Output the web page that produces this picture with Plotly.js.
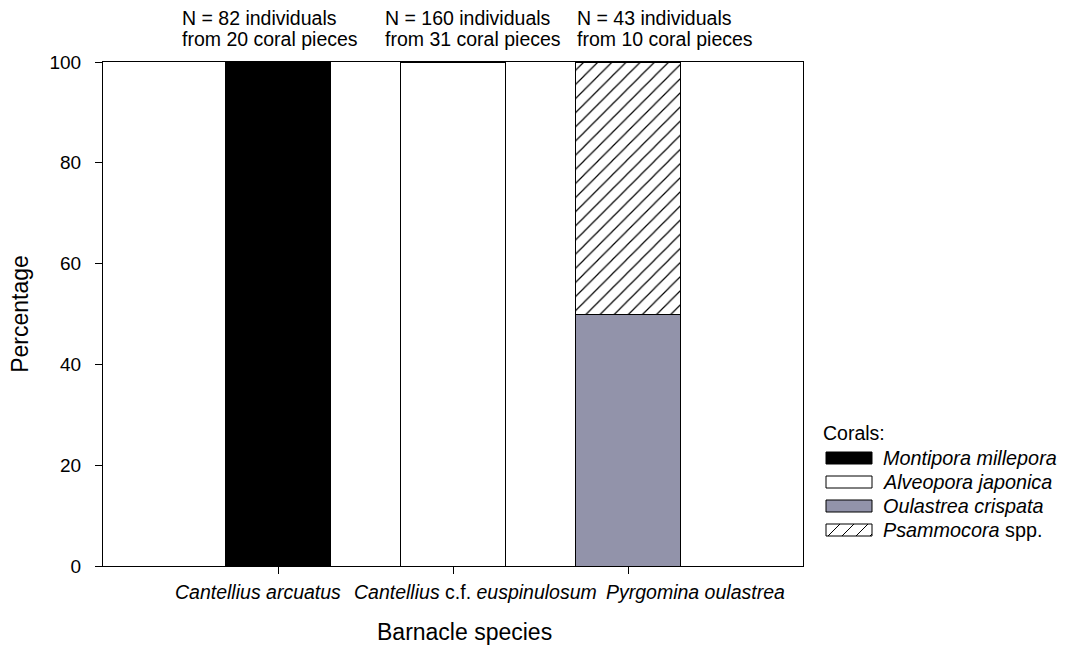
<!DOCTYPE html>
<html>
<head>
<meta charset="utf-8">
<script src="https://cdn.plot.ly/plotly-3.0.1.min.js"></script>
<style>html,body{margin:0;padding:0;background:#fff;}#chart{width:1071px;height:645px;}</style>
</head>
<body>
<div id="chart"></div>
<script>
// ---- data ----
const species = ["Cantellius arcuatus", "Cantellius c.f. euspinulosum", "Pyrgomina oulastrea"];
const speciesLabels = ["<i>Cantellius arcuatus</i>", "<i>Cantellius</i> c.f. <i>euspinulosum</i>", "<i>Pyrgomina oulastrea</i>"];
const noteLine1 = ["N = 82 individuals", "N = 160 individuals", "N = 43 individuals"];
const noteLine2 = ["from 20 coral pieces", "from 31 coral pieces", "from 10 coral pieces"];
const corals = ["Montipora millepora", "Alveopora japonica", "Oulastrea crispata", "Psammocora spp."];
const coralLabels = ["<i>Montipora millepora</i>", "<i>Alveopora japonica</i>", "<i>Oulastrea crispata</i>", "<i>Psammocora</i> spp."];
const montipora = [100, null, null];
const alveopora = [null, 100, null];
const oulastrea = [null, null, 50];
const psammocora = [null, null, 50];
const yTicks = [0, 20, 40, 60, 80, 100];

// ---- styles ----
const FONT = "Liberation Sans, Arial, Helvetica, sans-serif";
const fills = ["#000000", "#ffffff", "#9293aa", "#ffffff"];
const hatch = {shape: "/", fgcolor: "#000000", bgcolor: "#ffffff", size: 10, solidity: 0.12, fillmode: "replace"};
const series = [montipora, alveopora, oulastrea, psammocora];

const traces = series.map((vals, i) => {
  const t = {
    type: "bar", x: species, y: vals, name: corals[i],
    marker: {color: fills[i], line: {color: "#000000", width: 1}},
    showlegend: false, hoverinfo: "x+y+name"
  };
  if (i === 3) t.marker.pattern = hatch;
  return t;
});

// plot area geometry (px) for custom legend / note placement
const L = 103, R = 803, T = 62, B = 566;
const px = v => (v - L) / (R - L);
const py = v => (B - v) / (B - T);
const noteLeft = [180, 383, 575];
const labelShift = [-20, 22, 67];

const shapes = [];
const annotations = [];
noteLine1.forEach((s, i) => {
  annotations.push({x: px(noteLeft[i]), xref: "paper", xanchor: "left", y: py(17.5), yref: "paper", yanchor: "middle",
    text: s, showarrow: false, font: {family: FONT, size: 19.5, color: "#000"}});
  annotations.push({x: px(noteLeft[i]), xref: "paper", xanchor: "left", y: py(39), yref: "paper", yanchor: "middle",
    text: noteLine2[i], showarrow: false, font: {family: FONT, size: 19.5, color: "#000"}});
});
// category labels below the axis (offset as in the original figure)
speciesLabels.forEach((lab, i) => annotations.push({
  x: species[i], xref: "x", xshift: labelShift[i], y: py(592), yref: "paper", yanchor: "middle",
  text: lab, showarrow: false, font: {family: FONT, size: 19.5, color: "#000"}
}));
annotations.push({x: px(464), xref: "paper", y: py(632), yref: "paper", yanchor: "middle",
  text: "Barnacle species", showarrow: false, font: {family: FONT, size: 23, color: "#000"}});
annotations.push({x: px(821), xref: "paper", xanchor: "left", y: py(433), yref: "paper", yanchor: "middle",
  text: "Corals:", showarrow: false, font: {family: FONT, size: 19.5, color: "#000"}});

const sx0 = 826, sx1 = 872, sh = 12;
coralLabels.forEach((lab, i) => {
  const cy = 458 + i * 24;
  const y0 = cy + sh / 2, y1 = cy - sh / 2;
  shapes.push({type: "rect", xref: "paper", yref: "paper", x0: px(sx0), x1: px(sx1), y0: py(y0), y1: py(y1),
    fillcolor: fills[i], line: {color: "#000", width: 1}});
  if (i === 3) {
    let d = "";
    for (let xb = sx0 - sh; xb < sx1; xb += 14) {
      let ax = xb, ay = y0, bx = xb + sh, by = y1;
      if (ax < sx0) { ay = y0 - (sx0 - ax); ax = sx0; }
      if (bx > sx1) { by = y1 + (bx - sx1); bx = sx1; }
      if (bx - ax < 1) continue;
      d += `M${px(ax)},${py(ay)}L${px(bx)},${py(by)}`;
    }
    shapes.push({type: "path", xref: "paper", yref: "paper", path: d, line: {color: "#000", width: 1}});
  }
  annotations.push({x: px(881), xref: "paper", xanchor: "left", y: py(cy), yref: "paper", yanchor: "middle",
    text: lab, showarrow: false, font: {family: FONT, size: 19.8, color: "#000"}});
});

const layout = {
  width: 1071, height: 645,
  margin: {l: L, r: 1071 - R, t: T, b: 645 - B},
  paper_bgcolor: "#ffffff", plot_bgcolor: "#ffffff",
  barmode: "stack", bargap: 0.4,
  font: {family: FONT, size: 19, color: "#000"},
  showlegend: false,
  xaxis: {
    type: "category", categoryorder: "array", categoryarray: species,
    tickvals: species, range: [-1, 3], showticklabels: false,
    showline: true, mirror: true, linecolor: "#000", linewidth: 1,
    ticks: "outside", ticklen: 7, tickcolor: "#000", tickwidth: 1,
    showgrid: false, zeroline: false, automargin: false
  },
  yaxis: {
    range: [0, 100], tickvals: yTicks,
    showline: true, mirror: true, linecolor: "#000", linewidth: 1,
    ticks: "outside", ticklen: 7, tickcolor: "#000", tickwidth: 1, ticklabelstandoff: 10,
    showgrid: false, zeroline: false, automargin: false,
    tickfont: {family: FONT, size: 19, color: "#000"},
    title: {text: "Percentage", font: {family: FONT, size: 23, color: "#000"}, standoff: 14}
  },
  shapes: shapes,
  annotations: annotations
};

Plotly.newPlot("chart", traces, layout, {displayModeBar: false, staticPlot: true});
</script>
</body>
</html>
